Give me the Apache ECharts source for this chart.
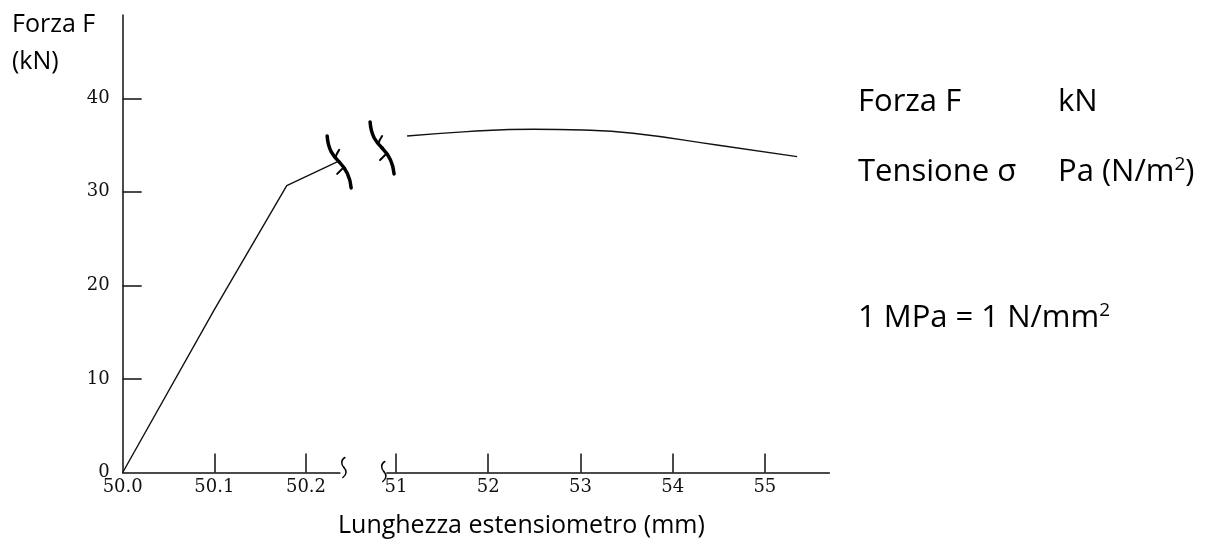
<!DOCTYPE html>
<html><head><meta charset="utf-8">
<script src="https://cdn.jsdelivr.net/npm/echarts@6/dist/echarts.min.js"></script>
<style>html,body{margin:0;padding:0;background:#fff}#c{width:1210px;height:543px}</style>
</head><body><div id="c"></div>
<script>
// ---- data ----
const yTickLabels = [0, 10, 20, 30, 40];
const yTickMarks = [10, 20, 30, 40];
const xTicksLeft = [50.0, 50.1, 50.2];
const xTickMarksLeft = [50.1, 50.2];
const xTicksRight = [51, 52, 53, 54, 55];
const elasticPart = [[50.0, 0], [50.1, 17.4], [50.179, 30.66], [50.234, 33.2]];
const plasticPart = [[51.12, 35.97], [51.77, 36.43], [52.49, 36.69], [53.03, 36.61], [53.57, 36.26], [54.48, 35.01], [55.35, 33.76]];
const yTitle = ['Forza F', '(kN)'];
const xTitle = 'Lunghezza estensiometro (mm)';

const chart = echarts.init(document.getElementById('c'), null, {renderer: 'canvas'});
const INK = '#111';
const serif = '"DejaVu Serif", "Liberation Serif", serif';
const sans = '"Open Sans", "Noto Sans", "DejaVu Sans", sans-serif';

function xAxisCfg(grid, min, max, ticks, labels, fmt) {
  return {
    type: 'value', gridIndex: grid, min: min, max: max,
    axisLine: {show: true, onZero: false, lineStyle: {color: INK, width: 1.5}},
    axisTick: {show: true, inside: true, length: 19, customValues: ticks, lineStyle: {color: INK, width: 1.5}},
    axisLabel: {show: true, customValues: labels, formatter: fmt, margin: 6, color: INK, fontFamily: serif, fontSize: 18},
    splitLine: {show: false}
  };
}

const option = {
  animation: false,
  backgroundColor: '#fff',
  grid: [
    {left: 122.7, top: 15, width: 217.2, height: 457.5, outerBoundsMode: 'none'},
    {left: 386.8, top: 15, width: 442.6, height: 457.5, outerBoundsMode: 'none'}
  ],
  xAxis: [
    xAxisCfg(0, 50.0, 50.237, xTickMarksLeft, xTicksLeft, v => v.toFixed(1)),
    xAxisCfg(1, 50.9, 55.7, xTicksRight, xTicksRight, v => String(Math.round(v)))
  ],
  yAxis: [
    {
      type: 'value', gridIndex: 0, min: 0, max: 48.9,
      axisLine: {show: true, onZero: false, lineStyle: {color: INK, width: 1.5}},
      axisTick: {show: true, inside: true, length: 19, customValues: yTickMarks, lineStyle: {color: INK, width: 1.5}},
      axisLabel: {show: true, customValues: yTickLabels, margin: 13, color: INK, fontFamily: serif, fontSize: 18},
      splitLine: {show: false}
    },
    {type: 'value', gridIndex: 1, min: 0, max: 48.9, show: false, splitLine: {show: false}}
  ],
  series: [
    {type: 'line', xAxisIndex: 0, yAxisIndex: 0, data: elasticPart, showSymbol: false, silent: true,
      lineStyle: {color: INK, width: 1.4}},
    {type: 'line', xAxisIndex: 1, yAxisIndex: 1, data: plasticPart, smooth: 0.5, showSymbol: false, silent: true,
      lineStyle: {color: INK, width: 1.4}}
  ]
};
chart.setOption(option);

// positions derived from the axes
const pEnd = chart.convertToPixel({xAxisIndex: 0, yAxisIndex: 0}, elasticPart[elasticPart.length - 1]);
const pStart = chart.convertToPixel({xAxisIndex: 1, yAxisIndex: 1}, plasticPart[0]);
const aEnd = chart.convertToPixel({xAxisIndex: 0, yAxisIndex: 0}, [50.237, 0]);
const aStart = chart.convertToPixel({xAxisIndex: 1, yAxisIndex: 1}, [50.9, 0]);

// cubic pieces: [x1,y1,cpx1,cpy1,cpx2,cpy2,x2,y2]
const bigBreak = [[-11, -26, -10, -12, -5, -6, 1, 0], [1, 0, 7, 6, 12, 14, 13, 26]];
const bigTicks = [[1, -12, -1, -9, -2, -7, -3, -4], [5, 6, 3, 8, 1, 10, -1, 12]];
const smallBreak = [[1, -10, -3, -8, -3, -3, 0, 0], [0, 0, 3, 3, 3, 7, -1, 10]];

function bez(pieces, ox, oy, w) {
  return pieces.map(p => ({
    type: 'bezierCurve', silent: true,
    shape: {x1: p[0] + ox, y1: p[1] + oy, cpx1: p[2] + ox, cpy1: p[3] + oy, cpx2: p[4] + ox, cpy2: p[5] + oy, x2: p[6] + ox, y2: p[7] + oy},
    style: {fill: null, stroke: '#000', lineWidth: w, lineCap: 'round'}
  }));
}
function txt(t, x, y, size) {
  return {type: 'text', silent: true, style: {text: t, x: x, y: y, fill: '#000', font: size + 'px ' + sans, verticalAlign: 'middle', align: 'left'}};
}
const sup = {n: {fontSize: 31, fontFamily: sans, color: '#000'}, s: {fontSize: 19, fontFamily: sans, color: '#000', verticalAlign: 'bottom', padding: [0, 0, 14, 0]}};

const graphics = [].concat(
  bez(bigBreak, pEnd[0] + 1, pEnd[1], 3.5),
  bez(bigTicks, pEnd[0] + 1, pEnd[1], 2),
  bez(bigBreak, pStart[0] - 26, pStart[1] + 12, 3.5),
  bez(bigTicks, pStart[0] - 26, pStart[1] + 12, 2),
  bez(smallBreak, aEnd[0] + 4, aEnd[1] - 5, 1.5),
  bez(smallBreak, aStart[0] - 3, aStart[1] - 1, 1.5),
  [
    txt(yTitle[0], 12, 25, 25),
    txt(yTitle[1], 12, 62, 25),
    txt(xTitle, 338, 526, 25),
    txt('Forza F', 858, 102, 31),
    txt('kN', 1058, 102, 31),
    txt('Tensione \u03c3', 858, 172, 31),
    {type: 'text', silent: true, style: {text: '{n|Pa (N/m}{s|2}{n|)}', x: 1058, y: 172, verticalAlign: 'middle', rich: sup}},
    {type: 'text', silent: true, style: {text: '{n|1 MPa = 1 N/mm}{s|2}', x: 858, y: 318, verticalAlign: 'middle', rich: sup}}
  ]
);
chart.setOption({graphic: graphics});
</script></body></html>
